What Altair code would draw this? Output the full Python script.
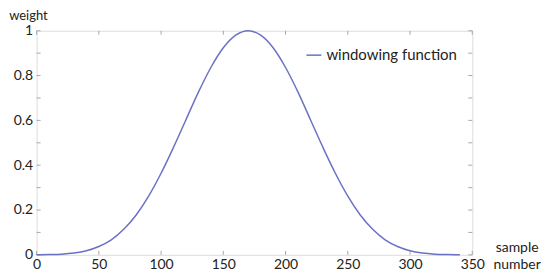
import altair as alt
import pandas as pd

# samples
sample = [0, 10, 20, 30, 40, 50, 60, 70, 80, 90, 100, 110, 120, 130, 140, 150, 160, 170,
          180, 190, 200, 210, 220, 230, 240, 250, 260, 270, 280, 290, 300, 310, 320, 330, 340]
weight = [0.000, 0.001, 0.003, 0.008, 0.018, 0.037, 0.067, 0.114, 0.178, 0.262, 0.364, 0.480,
          0.603, 0.726, 0.836, 0.924, 0.980, 1.000,
          0.980, 0.924, 0.836, 0.726, 0.603, 0.480, 0.364, 0.262, 0.178, 0.114, 0.067, 0.037,
          0.018, 0.008, 0.003, 0.001, 0.000]
series_name = "windowing function"

x_ticks = [0, 50, 100, 150, 200, 250, 300, 350]
y_labels = [0, 0.2, 0.4, 0.6, 0.8, 1.0]
y_ticks = [0, 0.1, 0.2, 0.3, 0.4, 0.5, 0.6, 0.7, 0.8, 0.9, 1.0]

W, H = 437.5, 225
FONT = "Lato"
LINE = "#6b72c2"
TICK = "#a8a8a8"

df = pd.DataFrame({"sample": sample, "weight": weight, "series": series_name})
xt = pd.DataFrame({"v": x_ticks})
yt = pd.DataFrame({"v": y_ticks})

xs = alt.Scale(domain=[0, 350], nice=False, zero=False)
ys = alt.Scale(domain=[0, 1], nice=False, zero=False)

line = alt.Chart(df).mark_line(strokeWidth=1.5, interpolate="monotone").encode(
    x=alt.X("sample:Q", scale=xs, axis=alt.Axis(
        values=x_ticks, ticks=False, domain=False, grid=False, labelFlush=False,
        labelFont=FONT, labelFontSize=14, labelColor="#222", labelPadding=3,
        title=["sample", "number"], titleFont=FONT, titleFontSize=14, titleFontWeight="normal",
        titleColor="#222", titleAngle=0, titleAlign="center", titleBaseline="alphabetic",
        titleX=482, titleY=-3, titleLineHeight=17)),
    y=alt.Y("weight:Q", scale=ys, axis=alt.Axis(
        values=y_labels, ticks=False, domain=False, grid=False, labelFlush=False,
        labelExpr="format(datum.value, '~g')",
        labelFont=FONT, labelFontSize=14, labelColor="#222", labelPadding=4,
        title="weight", titleFont=FONT, titleFontSize=13, titleFontWeight="normal",
        titleColor="#222", titleAngle=0, titleAlign="left", titleBaseline="alphabetic",
        titleX=-28, titleY=-11.4)),
    color=alt.Color("series:N", scale=alt.Scale(range=[LINE]), legend=alt.Legend(
        title=None, orient="none", legendX=270, legendY=16, padding=0,
        symbolType="stroke", symbolSize=225, symbolStrokeWidth=1.5,
        labelFont=FONT, labelFontSize=15, labelColor="#222", labelOffset=4)),
)

left_ticks = alt.Chart(yt).mark_rule(color=TICK, strokeWidth=1).encode(
    y=alt.Y("v:Q", scale=ys), x=alt.value(0), x2=alt.value(4))
right_ticks = alt.Chart(yt).mark_rule(color=TICK, strokeWidth=1).encode(
    y=alt.Y("v:Q", scale=ys), x=alt.value(W - 4), x2=alt.value(W))
top_ticks = alt.Chart(xt).mark_rule(color=TICK, strokeWidth=1).encode(
    x=alt.X("v:Q", scale=xs), y=alt.value(0), y2=alt.value(4))
bottom_ticks = alt.Chart(xt).mark_rule(color=TICK, strokeWidth=1).encode(
    x=alt.X("v:Q", scale=xs), y=alt.value(H - 4), y2=alt.value(H))

chart = alt.layer(left_ticks, right_ticks, top_ticks, bottom_ticks, line).properties(
    width=W, height=H,
    autosize=alt.AutoSizeParams(type="none"),
    padding={"left": 28.7, "top": 22.3, "right": 70, "bottom": 18.7},
).configure_view(stroke="#b8b8b8", strokeWidth=1).configure(background="white")

chart.save("out.html", embed_options={"renderer": "svg", "actions": False})
